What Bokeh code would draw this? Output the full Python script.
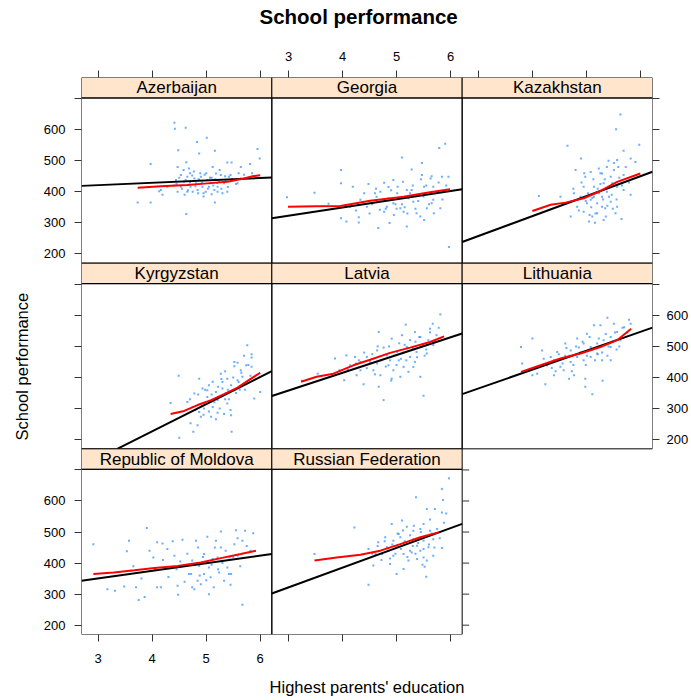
from bokeh.plotting import figure
from bokeh.models import Range1d, LinearAxis, FixedTicker, Title
from bokeh.core.properties import value
from bokeh.embed import file_html
from bokeh.resources import INLINE

FONT = "Liberation Sans"

# ---------------------------------------------------------------- data
countries = ["Azerbaijan", "Georgia", "Kazakhstan", "Kyrgyzstan",
             "Latvia", "Lithuania", "Republic of Moldova", "Russian Federation"]

# school-level means: highest parents' education (x) vs school performance (y)
aze_edu = [4.41, 4.42, 4.62, 5.01, 4.83, 5.16, 4.48, 4.87, 5.95, 5.99, 3.97, 4.63, 5.39, 5.47,
           5.64, 5.81, 3.73, 3.97, 4.63, 5.16, 4.16, 4.28, 4.44, 4.53, 4.59, 4.65, 4.71, 4.78,
           4.81, 4.84, 4.90, 4.93, 4.99, 5.02, 5.08, 5.15, 5.21, 5.27, 5.33, 5.39, 5.45, 5.52,
           5.58, 4.53, 4.47, 4.65, 4.75, 4.87, 5.05, 5.21, 5.12, 4.68, 5.18, 5.64, 4.13, 4.19,
           4.47, 5.42, 4.60, 4.95, 5.30, 4.70, 5.00, 4.40, 5.70, 5.85, 4.85, 5.10,
           4.45, 4.50, 4.55, 4.62, 4.70, 4.74, 4.80, 4.86, 4.92, 4.97, 5.03, 5.07, 5.13, 5.17,
           5.24, 5.28, 5.35, 5.40, 5.48, 5.55, 5.60, 4.58, 4.77, 4.95, 5.10, 5.25, 5.36, 4.66,
           4.89, 5.20]
aze_score = [622, 603, 606, 574, 560, 532, 534, 523, 538, 507, 489, 495, 494, 494,
             480, 489, 365, 365, 328, 365, 406, 416, 438, 454, 432, 448, 416, 443,
             427, 406, 448, 416, 400, 438, 427, 406, 416, 454, 427, 400, 454, 438,
             427, 416, 400, 400, 400, 438, 416, 400, 480, 475, 459, 443, 402, 390,
             480, 448, 390, 385, 395, 460, 460, 420, 455, 460, 395, 445,
             425, 445, 410, 438, 430, 452, 418, 440, 430, 455, 410, 445, 420, 440,
             432, 410, 450, 415, 440, 425, 460, 470, 465, 395, 392, 470, 435, 405,
             460, 428]

geo_edu = [2.97, 3.48, 3.74, 3.97, 3.97, 3.97, 4.07, 4.19, 4.30, 4.30, 4.48, 4.66, 4.77, 4.77,
           4.87, 4.94, 5.02, 5.10, 5.12, 5.19, 5.19, 5.28, 5.31, 5.37, 5.47, 5.47, 5.51, 5.51,
           5.63, 5.68, 5.79, 5.84, 5.90, 5.96, 5.97, 4.82, 4.94, 5.07, 4.63, 4.45, 5.22, 5.37,
           5.65, 5.81, 5.56, 4.69, 4.33, 4.14, 5.68, 5.01, 5.28, 4.85, 5.44, 5.13, 5.87, 5.69,
           4.60,
           4.25, 4.40, 4.55, 4.62, 4.72, 4.80, 4.90, 4.98, 5.05, 5.15, 5.25, 5.30, 5.40, 5.45,
           5.55, 5.60, 5.72, 5.78, 5.85, 5.92, 4.50, 4.70, 4.95, 5.10, 5.35, 5.50, 5.65, 5.20,
           4.85, 5.00]
geo_score = [382, 397, 361, 470, 427, 315, 304, 416, 318, 301, 425, 283, 429, 336,
             299, 438, 416, 510, 432, 406, 288, 472, 368, 331, 493, 454, 416, 309,
             443, 374, 541, 448, 555, 448, 222, 352, 363, 347, 384, 352, 379, 390,
             363, 347, 347, 342, 374, 352, 416, 395, 406, 379, 320, 336, 400, 331,
             395,
             340, 395, 360, 410, 370, 345, 405, 360, 380, 350, 395, 420, 370, 440,
             420, 360, 395, 430, 375, 420, 330, 400, 325, 360, 345, 385, 450, 330,
             415, 345]

kaz_edu = [5.62, 5.54, 4.64, 5.97, 5.68, 4.89, 5.37, 5.50, 5.56, 5.81, 5.90, 4.11, 4.51, 4.79,
           4.97, 5.07, 5.22, 5.28, 5.31, 5.44, 5.56, 5.68, 5.81, 4.70, 4.82, 4.94, 5.04, 5.10,
           5.19, 5.28, 5.34, 5.44, 5.53, 5.64, 5.13, 5.22, 5.07, 5.37, 4.88, 5.00, 5.31, 5.56,
           5.19, 5.47, 4.94, 5.13, 5.68, 4.76, 5.28, 5.41,
           4.75, 4.85, 4.90, 4.98, 5.02, 5.08, 5.12, 5.16, 5.20, 5.25, 5.30, 5.33, 5.38, 5.42,
           5.46, 5.50, 5.55, 5.60, 5.65, 5.72, 5.78, 5.15, 5.05, 4.95, 5.35, 5.48, 5.58, 5.25,
           5.10, 5.40]
kaz_score = [649, 601, 548, 551, 532, 507, 480, 493, 502, 507, 496, 386, 384, 470,
             448, 464, 475, 459, 427, 448, 416, 406, 390, 320, 352, 336, 304, 320,
             331, 352, 347, 368, 331, 312, 384, 395, 374, 400, 384, 363, 309, 352,
             363, 427, 416, 416, 454, 395, 384, 384,
             410, 340, 430, 370, 395, 350, 440, 330, 410, 460, 375, 440, 355, 415,
             390, 470, 375, 445, 420, 480, 430, 300, 325, 460, 320, 345, 480, 425,
             380, 500]

kgz_edu = [5.76, 5.84, 5.84, 5.58, 5.52, 5.74, 5.84, 4.49, 4.87, 5.12, 5.27, 5.39, 5.64, 5.46,
           5.70, 4.93, 4.78, 5.02, 5.18, 5.30, 5.52, 5.89, 6.00, 4.34, 4.65, 4.75, 4.87, 4.96,
           5.12, 5.21, 5.33, 5.46, 4.71, 4.84, 4.76, 4.50, 5.47, 5.09, 4.96, 5.21, 5.39, 5.02,
           5.67, 5.58, 5.36, 4.90,
           4.70, 4.80, 4.85, 4.92, 4.98, 5.05, 5.10, 5.15, 5.22, 5.25, 5.30, 5.35, 5.40, 5.45,
           5.50, 5.55, 5.60, 5.65, 5.72, 5.78, 5.82, 5.05, 5.18, 5.28, 5.42, 5.62, 4.95, 5.35,
           5.52, 5.70]
kgz_score = [504, 475, 464, 447, 436, 439, 434, 405, 396, 386, 412, 396, 423, 375,
             380, 364, 348, 337, 353, 364, 359, 332, 353, 318, 321, 305, 289, 300,
             305, 286, 282, 278, 252, 246, 225, 206, 225, 273, 316, 327, 316, 359,
             402, 391, 348, 273,
             330, 295, 345, 310, 360, 290, 345, 320, 370, 300, 385, 330, 360, 295,
             400, 350, 385, 415, 360, 440, 405, 375, 265, 395, 330, 360, 280, 420,
             450, 470]

lva_edu = [5.81, 5.17, 5.34, 5.67, 5.62, 4.67, 4.91, 5.10, 5.44, 3.86, 4.07, 4.23, 4.45, 4.64,
           4.76, 4.82, 5.01, 5.19, 5.37, 5.56, 5.68, 3.94, 4.03, 4.26, 4.39, 4.57, 4.70, 4.67,
           4.85, 4.94, 5.07, 5.22, 5.34, 5.44, 4.76, 5.50, 3.54, 3.25, 4.33, 4.51, 4.88, 5.04,
           5.25, 4.64, 4.91, 5.13, 5.31, 5.59, 5.74, 4.33, 4.14,
           4.10, 4.30, 4.45, 4.55, 4.60, 4.72, 4.80, 4.86, 4.95, 5.00, 5.05, 5.12, 5.18, 5.25,
           5.30, 5.38, 5.42, 5.48, 5.55, 5.62, 5.70, 5.78, 4.40, 4.65, 4.90, 5.15, 5.35, 5.52,
           4.25, 5.08]
lva_score = [603, 570, 546, 573, 557, 546, 525, 536, 530, 461, 471, 466, 466, 487,
             496, 471, 482, 498, 482, 477, 504, 423, 391, 407, 378, 423, 407, 370,
             439, 423, 402, 418, 450, 402, 327, 341, 412, 389, 450, 450, 455, 455,
             466, 445, 396, 434, 434, 520, 536, 423, 439,
             425, 455, 430, 475, 410, 455, 435, 500, 470, 440, 510, 480, 455, 520,
             495, 465, 530, 505, 490, 545, 515, 560, 480, 500, 390, 505, 515, 470,
             445, 460]

ltu_edu = [5.38, 5.50, 5.78, 5.25, 5.13, 5.00, 4.82, 4.60, 3.99, 3.78, 4.17, 4.33, 4.45, 4.70,
           4.85, 4.94, 5.07, 5.19, 5.31, 5.44, 5.56, 3.80, 4.08, 4.26, 4.39, 4.51, 4.57, 4.70,
           4.82, 4.94, 5.07, 5.19, 5.28, 5.44, 3.99, 4.23, 4.39, 4.67, 4.76, 4.97, 4.97, 5.10,
           5.29, 5.44, 5.62, 5.69, 5.81,
           4.20, 4.35, 4.48, 4.55, 4.62, 4.68, 4.75, 4.80, 4.88, 4.92, 5.00, 5.05, 5.10, 5.15,
           5.22, 5.28, 5.35, 5.40, 5.47, 5.52, 5.60, 5.66, 5.75, 4.42, 4.72, 4.98, 5.20, 5.38,
           5.55, 4.60]
ltu_score = [592, 573, 586, 568, 568, 541, 525, 509, 525, 498, 487, 466, 482, 487,
             496, 509, 498, 509, 520, 530, 546, 445, 412, 439, 455, 434, 423, 450,
             466, 455, 466, 477, 455, 455, 407, 378, 407, 396, 407, 396, 370, 346,
             389, 498, 520, 562, 573,
             460, 430, 475, 445, 495, 470, 440, 500, 480, 515, 470, 530, 490, 455,
             525, 480, 540, 500, 515, 545, 500, 560, 545, 420, 420, 440, 475, 470,
             490, 470]

mda_edu = [2.91, 3.17, 3.31, 3.48, 3.57, 3.53, 3.60, 3.70, 3.75, 3.86, 3.90, 4.02, 4.09, 4.16,
           4.09, 4.19, 4.28, 4.41, 4.47, 4.48, 4.56, 4.59, 4.68, 4.74, 4.78, 4.81, 4.84, 4.90,
           4.96, 5.02, 5.05, 5.08, 5.14, 5.18, 5.21, 5.27, 5.33, 5.39, 5.46, 5.52, 5.55, 5.67,
           5.72, 5.87, 5.67, 5.27, 5.02, 4.87, 4.74, 5.12, 5.43, 5.58, 5.24, 4.96,
           3.65, 3.80, 3.95, 4.05, 4.20, 4.30, 4.38, 4.52, 4.60, 4.65, 4.72, 4.80, 4.88, 4.94,
           5.00, 5.10, 5.16, 5.22, 5.30, 5.36, 5.42, 5.50, 5.58, 5.63, 5.75, 5.82, 4.45, 4.85,
           5.05, 5.45]
mda_score = [461, 316, 311, 325, 472, 438, 375, 322, 281, 291, 513, 418, 322, 322,
             467, 463, 445, 424, 327, 298, 475, 391, 365, 322, 316, 472, 343, 332,
             429, 485, 386, 354, 322, 472, 418, 450, 343, 386, 365, 461, 506, 472,
             504, 496, 266, 502, 402, 391, 408, 413, 418, 424, 370, 365,
             390, 350, 440, 380, 410, 355, 470, 405, 340, 430, 365, 395, 360, 420,
             345, 395, 450, 380, 400, 440, 365, 420, 480, 390, 455, 440, 380, 450,
             300, 330]

rus_edu = [5.97, 5.84, 5.86, 5.36, 5.56, 5.71, 5.84, 4.22, 4.91, 5.10, 5.19, 5.31, 5.44, 5.50,
           5.62, 5.07, 4.94, 4.79, 4.66, 4.82, 5.00, 5.19, 5.31, 5.50, 5.68, 4.48, 4.61, 4.73,
           4.94, 5.13, 5.28, 5.44, 5.59, 5.84, 4.57, 4.88, 5.00, 5.13, 5.22, 5.38, 5.50, 5.56,
           5.68, 5.52, 5.55, 4.48, 3.48, 5.25, 5.38, 5.04,
           4.55, 4.65, 4.72, 4.78, 4.85, 4.92, 4.98, 5.02, 5.08, 5.15, 5.20, 5.25, 5.30, 5.35,
           5.40, 5.45, 5.50, 5.55, 5.60, 5.65, 5.70, 5.75, 5.80, 5.88, 5.92, 4.88, 5.12, 5.32,
           5.48, 5.62]
rus_score = [673, 639, 603, 612, 574, 574, 563, 515, 526, 537, 517, 504, 510, 526,
             504, 483, 472, 483, 467, 451, 451, 467, 477, 472, 477, 445, 429, 429,
             424, 429, 434, 440, 451, 449, 392, 397, 365, 381, 408, 413, 418, 408,
             424, 388, 356, 330, 429, 440, 456, 494,
             430, 455, 410, 470, 440, 460, 430, 495, 445, 470, 420, 490, 455, 430,
             465, 500, 445, 485, 460, 495, 450, 510, 480, 530, 560, 415, 505, 520,
             395, 540]

# per-country linear fit: intercept and slope
fit_intercept = [398.5, 244.0, 65.3, -123.0, 186.4, 182.5, 277.4, 131.0]
fit_slope = [7.6, 26.4, 64.2, 87.4, 57.1, 60.8, 24.4, 63.6]

# per-country smoother
aze_smooth_x = [3.73, 4.16, 4.65, 5.02, 5.39, 5.70, 5.86, 6.00]
aze_smooth_y = [413, 418, 422, 427, 432, 443, 450, 453]
geo_smooth_x = [2.99, 3.50, 3.96, 4.51, 5.13, 5.56, 5.99]
geo_smooth_y = [352, 353, 354, 371, 384, 397, 408]
kaz_smooth_x = [3.99, 4.33, 4.60, 4.94, 5.22, 5.56, 5.99]
kaz_smooth_y = [338, 358, 365, 379, 400, 432, 459]
kgz_smooth_x = [4.34, 4.59, 4.84, 5.09, 5.33, 5.58, 5.83, 6.00]
kgz_smooth_y = [282, 292, 311, 327, 346, 367, 396, 415]
lva_smooth_x = [3.23, 3.52, 3.83, 4.20, 4.51, 4.88, 5.25, 5.62, 5.88]
lva_smooth_y = [386, 402, 412, 439, 457, 479, 496, 514, 532]
ltu_smooth_x = [3.78, 4.14, 4.51, 4.88, 5.25, 5.56, 5.82]
ltu_smooth_y = [418, 439, 461, 477, 498, 520, 557]
mda_smooth_x = [2.91, 3.29, 3.67, 4.04, 4.47, 4.90, 5.27, 5.64, 5.92]
mda_smooth_y = [365, 370, 377, 384, 391, 402, 416, 429, 440]
rus_smooth_x = [3.48, 3.89, 4.33, 4.70, 5.07, 5.44, 5.78]
rus_smooth_y = [408, 418, 427, 440, 461, 483, 499]

x_ticks = [3, 4, 5, 6]
y_ticks = [200, 300, 400, 500, 600]
y_ticks_unlabelled = [700]

edu = [aze_edu, geo_edu, kaz_edu, kgz_edu, lva_edu, ltu_edu, mda_edu, rus_edu]
score = [aze_score, geo_score, kaz_score, kgz_score, lva_score, ltu_score, mda_score, rus_score]
smooth_x = [aze_smooth_x, geo_smooth_x, kaz_smooth_x, kgz_smooth_x,
            lva_smooth_x, ltu_smooth_x, mda_smooth_x, rus_smooth_x]
smooth_y = [aze_smooth_y, geo_smooth_y, kaz_smooth_y, kgz_smooth_y,
            lva_smooth_y, ltu_smooth_y, mda_smooth_y, rus_smooth_y]

# ---------------------------------------------------------------- layout
NCOL, NROW = 3, 3
X_LIM = (2.69, 6.215)
Y_LIM = (170, 702)
STRIP = 66                      # strip height in y units
W = X_LIM[1] - X_LIM[0]
H = (Y_LIM[1] - Y_LIM[0]) + STRIP

FRAME_LEFT, FRAME_TOP = 81, 77
FRAME_W, FRAME_H = 571, 557
TICK = 7

p = figure(width=691, height=700, output_backend="svg", toolbar_location=None,
           x_range=Range1d(X_LIM[0], X_LIM[0] + NCOL * W),
           y_range=Range1d(Y_LIM[0], Y_LIM[0] + NROW * H),
           x_axis_type=None, y_axis_type=None,
           min_border_left=FRAME_LEFT, min_border_right=691 - FRAME_LEFT - FRAME_W,
           min_border_top=FRAME_TOP, min_border_bottom=700 - FRAME_TOP - FRAME_H)
p.outline_line_color = None
p.background_fill_color = "white"
p.border_fill_color = "white"

# one scale pair per panel column / row
p.extra_x_ranges = {f"c{c}": Range1d(X_LIM[0] - c * W, X_LIM[0] - c * W + NCOL * W)
                    for c in range(NCOL)}
p.extra_y_ranges = {f"r{r}": Range1d(Y_LIM[0] - (NROW - 1 - r) * H,
                                     Y_LIM[0] - (NROW - 1 - r) * H + NROW * H)
                    for r in range(NROW)}

for i, name in enumerate(countries):
    r, c = divmod(i, NCOL)
    rng = dict(x_range_name=f"c{c}", y_range_name=f"r{r}")

    # strip with the country name
    p.quad(left=[X_LIM[0]], right=[X_LIM[1]], bottom=[Y_LIM[1]], top=[Y_LIM[1] + STRIP],
           fill_color="#ffe5cc", line_color="black", line_width=1, **rng)
    p.text(x=[(X_LIM[0] + X_LIM[1]) / 2], y=[Y_LIM[1] + STRIP / 2], text=[name],
           text_align="center", text_baseline="middle", text_color="black",
           text_font=value(FONT), text_font_size=value("17px"), **rng)

    # schools
    p.scatter(x=edu[i], y=score[i], marker="square", size=2,
              fill_color="#2b8cff", fill_alpha=0.7, line_color=None, **rng)

    # linear fit across the whole panel, clipped to the panel box
    a, b = fit_intercept[i], fit_slope[i]
    x0, x1 = X_LIM
    if a + b * x0 < Y_LIM[0]:
        x0 = (Y_LIM[0] - a) / b
    if a + b * x1 > Y_LIM[1]:
        x1 = (Y_LIM[1] - a) / b
    p.line(x=[x0, x1], y=[a + b * x0, a + b * x1], line_color="black", line_width=2, **rng)

    # smoother
    p.line(x=smooth_x[i], y=smooth_y[i], line_color="red", line_width=2, **rng)

    # panel border
    p.quad(left=[X_LIM[0]], right=[X_LIM[1]], bottom=[Y_LIM[0]], top=[Y_LIM[1]],
           fill_color=None, line_color="black", line_width=1, **rng)


def style_axis(ax):
    ax.axis_line_color = None
    ax.major_tick_line_color = "#333333"
    ax.minor_tick_line_color = "#333333"
    ax.major_tick_in = 0
    ax.major_tick_out = TICK
    ax.minor_tick_in = 0
    ax.minor_tick_out = TICK
    ax.major_label_text_font = FONT
    ax.major_label_text_font_size = "13px"
    ax.major_label_text_color = "black"
    ax.axis_label_text_font = FONT
    ax.axis_label_text_font_size = "16.5px"
    ax.axis_label_text_font_style = "normal"
    ax.axis_label_text_color = "black"


# bottom: columns 1-2, labels under column 1
below = LinearAxis(x_range_name="c0",
                   ticker=FixedTicker(ticks=x_ticks, minor_ticks=[t + W for t in x_ticks]),
                   axis_label="Highest parents' education")
style_axis(below)
below.major_label_standoff = 12
below.axis_label_standoff = 12
p.add_layout(below, "below")

# top: all columns, labels over the middle column; a blank label keeps room
# between the tick labels and the main title
above = LinearAxis(x_range_name="c1",
                   ticker=FixedTicker(ticks=x_ticks,
                                      minor_ticks=[t - W for t in x_ticks] + [t + W for t in x_ticks]),
                   axis_label=" ")
style_axis(above)
above.major_label_standoff = 10
above.axis_label_text_font_size = "1px"
above.axis_label_standoff = 17
p.add_layout(above, "above")

# left: all rows, labels on rows 1 and 3
left_major = y_ticks + [t + 2 * H for t in y_ticks]
left_minor = y_ticks_unlabelled + [t + 2 * H for t in y_ticks_unlabelled] + \
    [t + H for t in y_ticks + y_ticks_unlabelled]
left = LinearAxis(y_range_name="r2",
                  ticker=FixedTicker(ticks=left_major, minor_ticks=left_minor),
                  major_label_overrides={t + 2 * H: str(t) for t in y_ticks})
style_axis(left)
left.major_label_standoff = 9
p.add_layout(left, "left")

# right: rows 1-2 on the outer edge, labels on row 2
right = LinearAxis(y_range_name="r1",
                   ticker=FixedTicker(ticks=y_ticks,
                                      minor_ticks=y_ticks_unlabelled +
                                      [t + H for t in y_ticks + y_ticks_unlabelled]))
style_axis(right)
right.major_label_standoff = 7
p.add_layout(right, "right")

# right-hand ticks of the last panel in the bottom row
tick_units = TICK * NCOL * W / FRAME_W
rt = y_ticks + y_ticks_unlabelled
p.segment(x0=[X_LIM[1]] * len(rt), x1=[X_LIM[1] + tick_units] * len(rt), y0=rt, y1=rt,
          line_color="#333333", line_width=1, x_range_name="c1", y_range_name="r2")

# vertical axis title
p.add_layout(Title(text="School performance", align="left", offset=194, text_font=FONT,
                   text_font_size="16.5px", text_font_style="normal", text_color="black",
                   standoff=20), "left")

# main title
p.title.text = "School performance"
p.title.align = "left"
p.title.offset = 178
p.title.text_font = FONT
p.title.text_font_size = "20.5px"
p.title.text_font_style = "bold"
p.title.text_color = "black"
p.title.standoff = 0

open("out.html", "w").write(file_html(p, INLINE))
